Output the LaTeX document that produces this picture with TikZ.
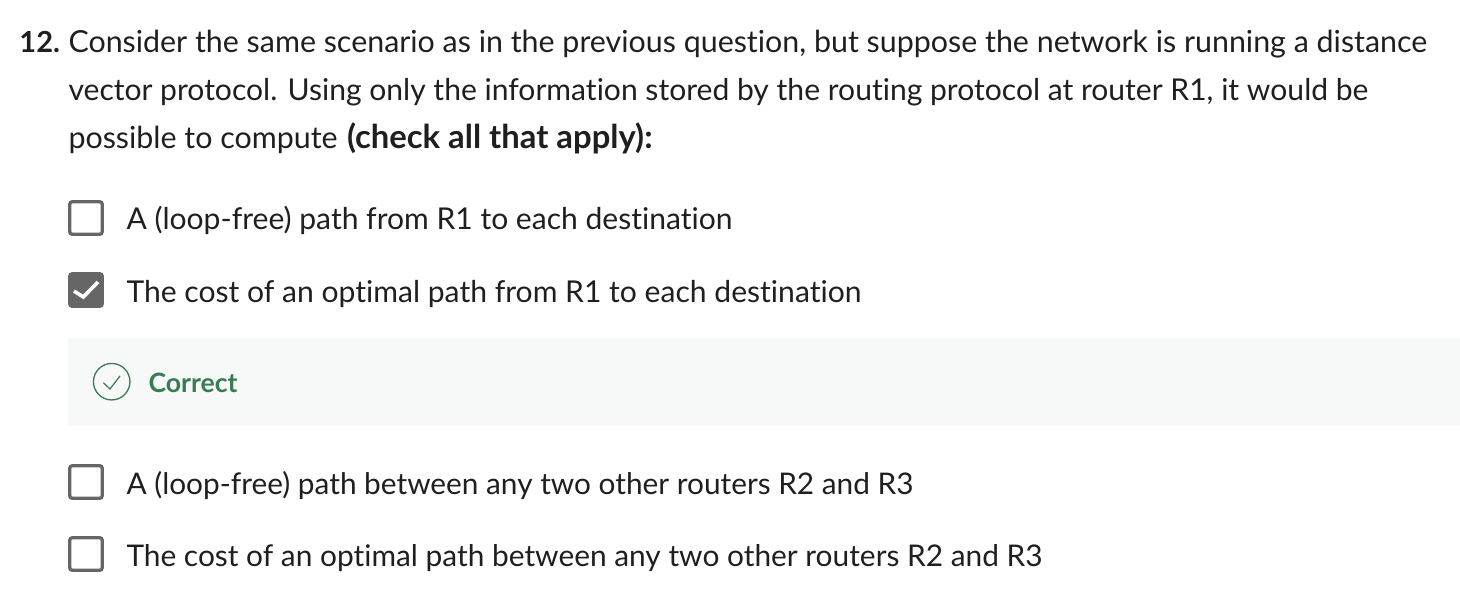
\documentclass[tikz,border=0pt]{standalone}
\usepackage{fontspec}
\setmainfont[Ligatures=NoCommon]{Lato}
\usepackage{xcolor}
\definecolor{inktext}{HTML}{1F1F1F}
\definecolor{boxgrey}{HTML}{666666}
\definecolor{okgreen}{HTML}{387B54}
\definecolor{okfill}{HTML}{F7F9F8}
\tikzset{
  qtext/.style={anchor=base west,inner sep=0pt,outer sep=0pt,text=inktext,font=\fontsize{#1}{30}\selectfont},
  qtext/.default=30,
  qbold/.style={anchor=base west,inner sep=0pt,outer sep=0pt,text=inktext,font=\fontsize{#1}{30}\bfseries\selectfont},
  qbox/.style={draw=boxgrey,line width=3.3pt,rounded corners=2.5pt,fill=white,minimum size=32.5pt,inner sep=0pt,anchor=center},
  qboxon/.style={qbox,fill=boxgrey}
}
\begin{document}
\begin{tikzpicture}[x=1pt,y=-1pt]
  \useasboundingbox (0,0) rectangle (1460,604);

  % --------------------------------------------------------------
  % The question.
  % --------------------------------------------------------------
  \node[qbold=29] (qnum) at (19.5,52.5) {12.};
  \node[qtext=30.39] (lineA) at (68.5,52.5) {Consider the same scenario as in the previous question, but suppose the network is running a distance};
  \node[qtext=30.07] (lineB) at (68.5,100.5) {vector protocol. Using only the information stored by the routing protocol at router R1, it would be};
  \node[qtext=30.4] (lineC) at (68.5,148.5) {possible to compute};
  \node[qbold=32.8] (lineD) at (347,148.5) {(check all that apply):};

  % --------------------------------------------------------------
  % The feedback band.
  % --------------------------------------------------------------
  \fill[okfill] (68,338) rectangle (1460,426);
  \node[circle,draw=okgreen,line width=1.3pt,minimum size=36.5pt,inner sep=0pt] (okmark) at (111.7,381.7) {};
  \draw[okgreen,line width=1.2pt] (103.3,382.7) -- (110,389) -- (120,376);
  \node[qbold=26.6,text=okgreen] (oktext) at (148.5,392) {Correct};

  % --------------------------------------------------------------
  % The four choices.
  % --------------------------------------------------------------
  \node[qbox] (boxA) at (86,218) {};
  \node[qboxon] (boxB) at (86,290) {};
  \node[qbox] (boxC) at (86,482) {};
  \node[qbox] (boxD) at (86,554) {};
  \draw[white,line width=3.6pt] (74,291) -- (83.3,297) -- (98,282);

  \node[qtext=30.05] (textA) at (126.5,230) {A (loop-free) path from R1 to each destination};
  \node[qtext=30.09] (textB) at (126.5,302) {The cost of an optimal path from R1 to each destination};
  \node[qtext=29.8] (textC) at (126.5,494) {A (loop-free) path between any two other routers R2 and R3};
  \node[qtext=29.87] (textD) at (126.5,566) {The cost of an optimal path between any two other routers R2 and R3};
\end{tikzpicture}
\end{document}
